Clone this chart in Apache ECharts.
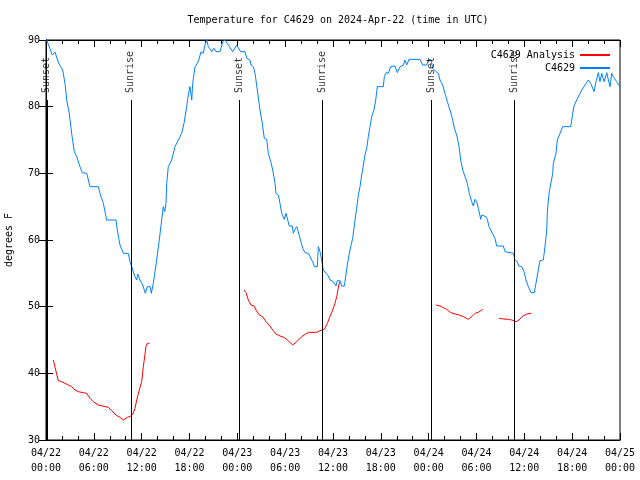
<!DOCTYPE html>
<html>
<head>
<meta charset="utf-8">
<script src="https://cdn.jsdelivr.net/npm/echarts@6/dist/echarts.min.js"></script>
<style>
html,body{margin:0;padding:0;background:#fff;}
#chart{width:640px;height:480px;}
</style>
</head>
<body>
<div id="chart"></div>
<script>
// Hours since 2024-04-22 00:00 UTC
var obsHours = [0.09,0.79,1.13,1.54,1.84,2.09,2.38,2.60,2.92,3.22,3.55,3.85,4.26,4.55,5.11,5.52,6.56,6.77,7.19,7.61,8.78,8.94,9.28,9.70,10.32,10.54,10.88,11.16,11.38,11.50,11.79,12.13,12.46,12.71,13.05,13.21,13.46,13.80,14.21,14.51,14.71,14.89,15.05,15.14,15.30,15.34,15.77,16.18,16.60,17.02,17.31,17.65,17.85,18.06,18.28,18.40,18.69,18.98,19.23,19.44,19.73,19.94,20.16,20.36,20.79,21.07,21.32,21.83,22.17,22.45,22.87,23.42,23.92,24.42,24.96,25.18,25.59,25.72,26.00,26.22,26.51,26.84,27.13,27.38,27.68,27.89,28.19,28.44,28.73,28.85,29.14,29.35,29.57,29.77,29.89,30.11,30.32,30.52,30.90,31.02,31.23,31.45,31.65,31.86,32.20,32.49,32.90,33.12,33.45,33.66,34.03,34.16,34.37,34.58,34.78,35.12,35.41,35.62,36.04,36.38,36.54,36.88,37.09,37.42,37.59,37.79,38.05,38.26,38.47,38.76,38.97,39.18,39.39,39.60,39.72,40.01,40.23,40.43,40.64,40.86,41.14,41.36,41.56,42.31,42.44,42.65,42.94,43.24,43.49,43.78,44.07,44.41,44.82,45.03,45.25,45.53,46.91,47.25,47.75,47.95,48.26,48.51,48.67,48.92,49.21,49.42,49.76,50.05,50.34,50.68,50.97,51.22,51.52,51.81,52.02,52.27,52.56,52.85,53.10,53.40,53.60,53.81,54.03,54.23,54.53,54.65,54.85,55.19,55.36,55.57,55.82,56.11,56.32,56.54,57.36,57.58,58.62,58.83,59.12,59.30,59.67,59.96,60.21,60.50,60.84,61.25,61.46,61.75,61.97,62.38,62.59,62.81,62.88,63.01,63.13,63.35,63.56,63.64,63.97,64.14,64.48,64.81,65.82,66.07,66.23,66.57,66.90,67.20,67.61,68.03,68.33,68.58,68.74,68.99,69.28,69.49,69.71,70.00,70.34,70.54,70.75,70.96,71.16,71.59,72.00];
var obsTemps = [90,87.75,88.2,86.7,86,85.5,83.5,81,79,76,73.25,72.5,71,70.1,70,68,68,67,65.5,63,63,61.5,59.25,58,58,56.75,55.5,54.5,54,54.9,54,53.25,52,53,53,52,53.5,56.25,60,63,65,64.25,65.5,68.5,70.5,71,72,74,75,76,77.5,80,81.75,83,81,83.5,86,86.5,87.25,88.25,88,89.25,90,89,88.25,88.75,88.25,88.25,89.75,90,89.25,88.25,89.25,88.25,88.25,87.25,87,86.25,86,85,82.5,79.5,77.5,75.25,75.1,73,71.75,70.5,68.5,67,66.75,65.5,64,64,63.1,64,63,62.1,62.1,61,61.6,62,61.25,60.25,58.75,58.1,58,57.5,56.75,56,56,59,58.25,57,55.5,55,54.6,54,53.75,53.1,53.9,53.9,53.1,53.1,54.5,56.25,58,59.25,60.25,63,64.75,66.75,68,69.75,70.5,72.75,73.75,75.5,77,78.5,79.5,81,83,83,84.5,85.1,85,86,86.25,86.1,85.1,86,86.25,87,86.25,87.1,87.1,86.25,86.25,87,87.1,85.75,85.5,85.25,85,84,83.25,82,80.75,79.5,78.25,76.75,75.75,74,72,70.5,69.5,68.5,67,65.75,65.1,66.1,65.75,64.75,63.1,63.75,64,63.5,63.1,62,61.75,60.75,60.25,59.1,59.1,58.25,58,57,56.75,56.1,56,55.25,54,53,52.1,52.1,53.5,55.5,56.9,57,59,61.5,64,66,67.25,68.6,70,71.5,73,75,76,77,77,79,80.1,81,81.75,82.5,83.25,84,83.5,83.25,82.25,83.75,85.1,83.75,85,83.75,85.1,84,83,85,84.5,83.75,83];

// Analysis series, four separate runs
var anaHours1 = [0.92,1.22,1.54,1.97,2.38,2.80,3.22,3.64,4.05,4.68,5.11,5.52,5.93,6.56,6.77,7.81,8.24,8.78,9.28,9.70,9.91,10.20,10.62,10.88,11.16,11.38,11.70,12.00,12.21,12.54,12.71,12.96];
var anaTemps1 = [42,40.5,38.9,38.75,38.5,38.25,38,37.5,37.25,37.1,37,36.25,35.75,35.25,35.1,34.9,34.4,33.75,33.4,33,33,33.4,33.6,33.85,34.75,36,37.5,38.75,41,44,44.5,44.5];
var anaHours2 = [24.84,25.09,25.38,25.72,26.09,26.34,26.76,27.18,27.60,28.01,28.44,28.85,29.35,29.85,30.27,30.95,31.45,32.07,32.90,33.96,34.37,34.91,35.29,35.62,35.96,36.25,36.47,36.72,36.88];
var anaTemps2 = [52.5,52.1,51,50.25,50.1,49.5,48.75,48.5,47.75,47.25,46.5,45.9,45.6,45.4,45,44.25,44.75,45.5,46.15,46.15,46.4,46.6,47.5,48.5,49.5,50.5,51.5,53.25,53.75];
var anaHours3 = [48.92,49.42,49.84,50.26,50.76,51.30,51.84,52.35,52.97,53.40,53.81,54.23,54.78];
var anaTemps3 = [50.25,50.1,49.85,49.6,49.1,48.9,48.75,48.5,48.1,48.5,49,49.15,49.6];
var anaHours4 = [56.82,57.36,57.99,58.42,58.96,59.33,59.80,60.30,60.84];
var anaTemps4 = [48.25,48.15,48.1,48,47.75,48,48.6,48.9,49];

var eventHours = [0.1,10.65,24.2,34.65,48.35,58.75];
var eventNames = ['Sunset','Sunrise','Sunset','Sunrise','Sunset','Sunrise'];
var eventLineTop = 81;

var xTickDates = ['04/22','04/22','04/22','04/22','04/23','04/23','04/23','04/23','04/24','04/24','04/24','04/24','04/25'];
var xTickTimes = ['00:00','06:00','12:00','18:00','00:00','06:00','12:00','18:00','00:00','06:00','12:00','18:00','00:00'];

var titleText = 'Temperature for C4629 on 2024-Apr-22 (time in UTC)';
var yName = 'degrees F';
var seriesNames = ['C4629 Analysis','C4629'];

function zip(h, v){ return h.map(function(x,i){ return [x, v[i]]; }); }
var gap = [null, null];
var anaData = [].concat(zip(anaHours1,anaTemps1),[gap],zip(anaHours2,anaTemps2),[gap],zip(anaHours3,anaTemps3),[gap],zip(anaHours4,anaTemps4));
var obsData = zip(obsHours, obsTemps);

var FONT = 'DejaVu Sans Mono';
var chart = echarts.init(document.getElementById('chart'), null, {renderer:'canvas'});

var xCommon = {
  type:'value', min:0, max:72, interval:6,
  axisLine:{show:true, lineStyle:{color:'#000', width:1}},
  axisTick:{show:true, inside:true, length:7, lineStyle:{color:'#000'}},
  minorTick:{show:true, splitNumber:3, length:4, lineStyle:{color:'#000'}},
  splitLine:{show:false}, minorSplitLine:{show:false}
};
var yCommon = {
  type:'value', min:30, max:90, interval:10,
  axisLine:{show:true, lineStyle:{color:'#000', width:1}},
  axisTick:{show:true, inside:true, length:7, lineStyle:{color:'#000'}},
  splitLine:{show:false}
};

chart.setOption({
  animation:false,
  backgroundColor:'#fff',
  textStyle:{fontFamily:FONT},
  title:{text:titleText, left:333, textAlign:'center', top:10,
    textStyle:{fontFamily:FONT, fontSize:10, fontWeight:'normal', color:'#000'}},
  legend:{
    data:seriesNames, orient:'vertical', right:25, top:45, align:'right',
    icon:'rect', itemWidth:30, itemHeight:2, itemGap:3,
    textStyle:{fontFamily:FONT, fontSize:10, color:'#000', lineHeight:10}
  },
  grid:{left:46, right:20, top:40, bottom:40, containLabel:false, outerBoundsMode:'none',
    show:true, borderColor:'#000', borderWidth:1, backgroundColor:'transparent'},
  xAxis:[
    Object.assign({}, xCommon, {position:'bottom',
      axisLabel:{show:true, margin:6, fontFamily:FONT, fontSize:10, color:'#000', lineHeight:15,
        formatter:function(v){ var i=Math.round(v/6); return xTickDates[i]+'\n'+xTickTimes[i]; }}}),
    Object.assign({}, xCommon, {position:'top', axisLabel:{show:false}})
  ],
  yAxis:[
    Object.assign({}, yCommon, {position:'left', name:yName, nameLocation:'middle', nameGap:32, nameRotate:90,
      nameTextStyle:{fontFamily:FONT, fontSize:10, color:'#000'},
      axisLabel:{show:true, margin:6, fontFamily:FONT, fontSize:10, color:'#000'}}),
    Object.assign({}, yCommon, {position:'right', axisLabel:{show:false}})
  ],
  series:[
    {name:seriesNames[0], type:'line', data:anaData, symbol:'none', connectNulls:false,
      lineStyle:{color:'#ff0000', width:1}, itemStyle:{color:'#ff0000'}, z:3},
    {name:seriesNames[1], type:'line', data:obsData, symbol:'none',
      lineStyle:{color:'#0080ff', width:1}, itemStyle:{color:'#0080ff'}, z:4,
      markLine:{silent:true, symbol:'none', animation:false,
        label:{show:false},
        lineStyle:{color:'#000', width:1, type:'solid'},
        emphasis:{disabled:true},
        data:eventHours.map(function(t){ return [{coord:[t,eventLineTop]},{coord:[t,30]}]; })
      }},
    {name:'events', type:'scatter', symbolSize:0, silent:true, z:5,
      data:eventHours.map(function(t,i){ return {value:[t,eventLineTop], name:eventNames[i]}; }),
      label:{show:true, formatter:'{b}', position:'top', distance:7, rotate:90, align:'left', verticalAlign:'middle',
        fontFamily:FONT, fontSize:10, color:'#000'}}
  ]
});
</script>
</body>
</html>
